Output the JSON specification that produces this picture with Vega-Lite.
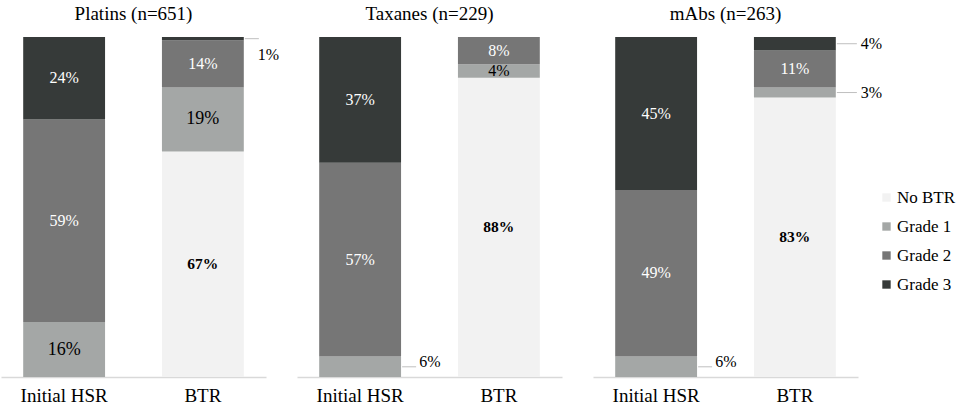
{
  "$schema": "https://vega.github.io/schema/vega-lite/v6.json",
  "padding": {"left": 1, "top": 5, "right": 0, "bottom": 0},
  "bounds": "flush",
  "data": {
    "values": [
      {"drug": "Platins (n=651)", "bar": "Initial HSR", "grade": "Grade 1", "rank": 1, "pct": 0.16},
      {"drug": "Platins (n=651)", "bar": "Initial HSR", "grade": "Grade 2", "rank": 2, "pct": 0.59},
      {"drug": "Platins (n=651)", "bar": "Initial HSR", "grade": "Grade 3", "rank": 3, "pct": 0.24},
      {"drug": "Platins (n=651)", "bar": "BTR", "grade": "No BTR", "rank": 0, "pct": 0.67},
      {"drug": "Platins (n=651)", "bar": "BTR", "grade": "Grade 1", "rank": 1, "pct": 0.19},
      {"drug": "Platins (n=651)", "bar": "BTR", "grade": "Grade 2", "rank": 2, "pct": 0.14},
      {"drug": "Platins (n=651)", "bar": "BTR", "grade": "Grade 3", "rank": 3, "pct": 0.01},
      {"drug": "Taxanes (n=229)", "bar": "Initial HSR", "grade": "Grade 1", "rank": 1, "pct": 0.06},
      {"drug": "Taxanes (n=229)", "bar": "Initial HSR", "grade": "Grade 2", "rank": 2, "pct": 0.57},
      {"drug": "Taxanes (n=229)", "bar": "Initial HSR", "grade": "Grade 3", "rank": 3, "pct": 0.37},
      {"drug": "Taxanes (n=229)", "bar": "BTR", "grade": "No BTR", "rank": 0, "pct": 0.88},
      {"drug": "Taxanes (n=229)", "bar": "BTR", "grade": "Grade 1", "rank": 1, "pct": 0.04},
      {"drug": "Taxanes (n=229)", "bar": "BTR", "grade": "Grade 2", "rank": 2, "pct": 0.08},
      {"drug": "mAbs (n=263)", "bar": "Initial HSR", "grade": "Grade 1", "rank": 1, "pct": 0.06},
      {"drug": "mAbs (n=263)", "bar": "Initial HSR", "grade": "Grade 2", "rank": 2, "pct": 0.49},
      {"drug": "mAbs (n=263)", "bar": "Initial HSR", "grade": "Grade 3", "rank": 3, "pct": 0.45},
      {"drug": "mAbs (n=263)", "bar": "BTR", "grade": "No BTR", "rank": 0, "pct": 0.83},
      {"drug": "mAbs (n=263)", "bar": "BTR", "grade": "Grade 1", "rank": 1, "pct": 0.03},
      {"drug": "mAbs (n=263)", "bar": "BTR", "grade": "Grade 2", "rank": 2, "pct": 0.11},
      {"drug": "mAbs (n=263)", "bar": "BTR", "grade": "Grade 3", "rank": 3, "pct": 0.04}
    ]
  },
  "facet": {
    "column": {
      "field": "drug",
      "type": "nominal",
      "sort": ["Platins (n=651)", "Taxanes (n=229)", "mAbs (n=263)"],
      "header": {"title": null, "labelFont": "Liberation Serif", "labelFontSize": 19, "labelColor": "black", "labelPadding": 13}
    }
  },
  "spacing": 31,
  "spec": {
    "width": 265,
    "height": 340,
    "encoding": {
      "x": {
        "field": "bar",
        "type": "nominal",
        "sort": ["Initial HSR", "BTR"],
        "scale": {"paddingInner": 0.41, "paddingOuter": 0.16},
        "axis": {
          "title": null,
          "labelAngle": 0,
          "ticks": false,
          "labelFont": "Liberation Serif",
          "labelFontSize": 19,
          "labelColor": "black",
          "labelPadding": 9,
          "domainColor": "#d9d9d9",
          "domainWidth": 1.5
        }
      },
      "y": {
        "field": "pct",
        "type": "quantitative",
        "stack": "normalize",
        "axis": null
      },
      "order": {"field": "rank", "type": "quantitative"}
    },
    "layer": [
      {
        "mark": {"type": "bar"},
        "encoding": {
          "color": {
            "field": "grade",
            "type": "nominal",
            "scale": {
              "domain": ["No BTR", "Grade 1", "Grade 2", "Grade 3"],
              "range": ["#f2f2f2", "#a4a7a6", "#767676", "#363a39"]
            },
            "legend": {
              "title": null,
              "orient": "none",
              "legendX": 877,
              "legendY": 152,
              "symbolType": "square",
              "symbolSize": 70,
              "symbolStrokeWidth": 0,
              "labelFont": "Liberation Serif",
              "labelFontSize": 17,
              "labelColor": "black",
              "rowPadding": 11,
              "labelOffset": 2
            }
          }
        }
      },
      {
        "mark": {"type": "text", "font": "Liberation Serif", "baseline": "middle"},
        "encoding": {
          "y": {"field": "pct", "type": "quantitative", "stack": "normalize", "bandPosition": 0.5},
          "detail": {"field": "grade"},
          "text": {
            "condition": {
              "test": "datum.grade != 'No BTR' && (datum.pct > 0.06 || (datum.drug == 'Taxanes (n=229)' && datum.bar == 'BTR'))",
              "field": "pct", "type": "quantitative", "format": ".0%"
            },
            "value": ""
          },
          "color": {
            "condition": {"test": "datum.grade == 'Grade 2' || datum.grade == 'Grade 3'", "value": "white"},
            "value": "black"
          },
          "size": {
            "condition": {"test": "datum.grade == 'Grade 1' && datum.pct > 0.1", "value": 18},
            "value": 16
          }
        }
      },
      {
        "mark": {"type": "text", "font": "Liberation Serif", "fontWeight": "bold", "fontSize": 15.5, "baseline": "middle", "color": "black"},
        "encoding": {
          "y": {"field": "pct", "type": "quantitative", "stack": "normalize", "bandPosition": 0.5},
          "detail": {"field": "grade"},
          "text": {
            "condition": {"test": "datum.grade == 'No BTR'", "field": "pct", "type": "quantitative", "format": ".0%"},
            "value": ""
          }
        }
      },
      {
        "mark": {"type": "text", "font": "Liberation Serif", "fontSize": 16, "baseline": "middle", "align": "left", "color": "black", "dx": 55, "dy": 16},
        "encoding": {
          "y": {"field": "pct", "type": "quantitative", "stack": "normalize", "bandPosition": 0.5},
          "detail": {"field": "grade"},
          "text": {
            "condition": {"test": "datum.bar == 'BTR' && datum.pct < 0.02", "field": "pct", "type": "quantitative", "format": ".0%"},
            "value": ""
          }
        }
      },
      {
        "mark": {"type": "text", "font": "Liberation Serif", "fontSize": 16, "baseline": "middle", "align": "left", "color": "black", "dx": 66},
        "encoding": {
          "y": {"field": "pct", "type": "quantitative", "stack": "normalize", "bandPosition": 0.5},
          "detail": {"field": "grade"},
          "text": {
            "condition": {"test": "datum.drug == 'mAbs (n=263)' && datum.bar == 'BTR' && datum.pct < 0.05", "field": "pct", "type": "quantitative", "format": ".0%"},
            "value": ""
          }
        }
      },
      {
        "mark": {"type": "text", "font": "Liberation Serif", "fontSize": 16, "baseline": "middle", "align": "left", "color": "black", "dx": 59, "dy": -5},
        "encoding": {
          "y": {"field": "pct", "type": "quantitative", "stack": "normalize", "bandPosition": 0.5},
          "detail": {"field": "grade"},
          "text": {
            "condition": {"test": "datum.bar == 'Initial HSR' && datum.pct < 0.07", "field": "pct", "type": "quantitative", "format": ".0%"},
            "value": ""
          }
        }
      },
      {
        "mark": {"type": "rule", "strokeWidth": 1, "xOffset": 42, "x2Offset": 56},
        "encoding": {
          "x2": {"field": "bar"},
          "y": {"field": "pct", "type": "quantitative", "stack": "normalize", "bandPosition": 0.5},
          "detail": {"field": "grade"},
          "color": {
            "condition": {"test": "(datum.bar == 'Initial HSR' && datum.pct < 0.07) || (datum.bar == 'BTR' && datum.pct < 0.02)", "value": "#bfbfbf"},
            "value": "transparent"
          }
        }
      },
      {
        "mark": {"type": "rule", "strokeWidth": 1, "xOffset": 42, "x2Offset": 62},
        "encoding": {
          "x2": {"field": "bar"},
          "y": {"field": "pct", "type": "quantitative", "stack": "normalize", "bandPosition": 0.5},
          "detail": {"field": "grade"},
          "color": {
            "condition": {"test": "datum.drug == 'mAbs (n=263)' && datum.bar == 'BTR' && datum.pct < 0.05", "value": "#bfbfbf"},
            "value": "transparent"
          }
        }
      }
    ]
  },
  "config": {
    "view": {"stroke": null},
    "font": "Liberation Serif"
  }
}
